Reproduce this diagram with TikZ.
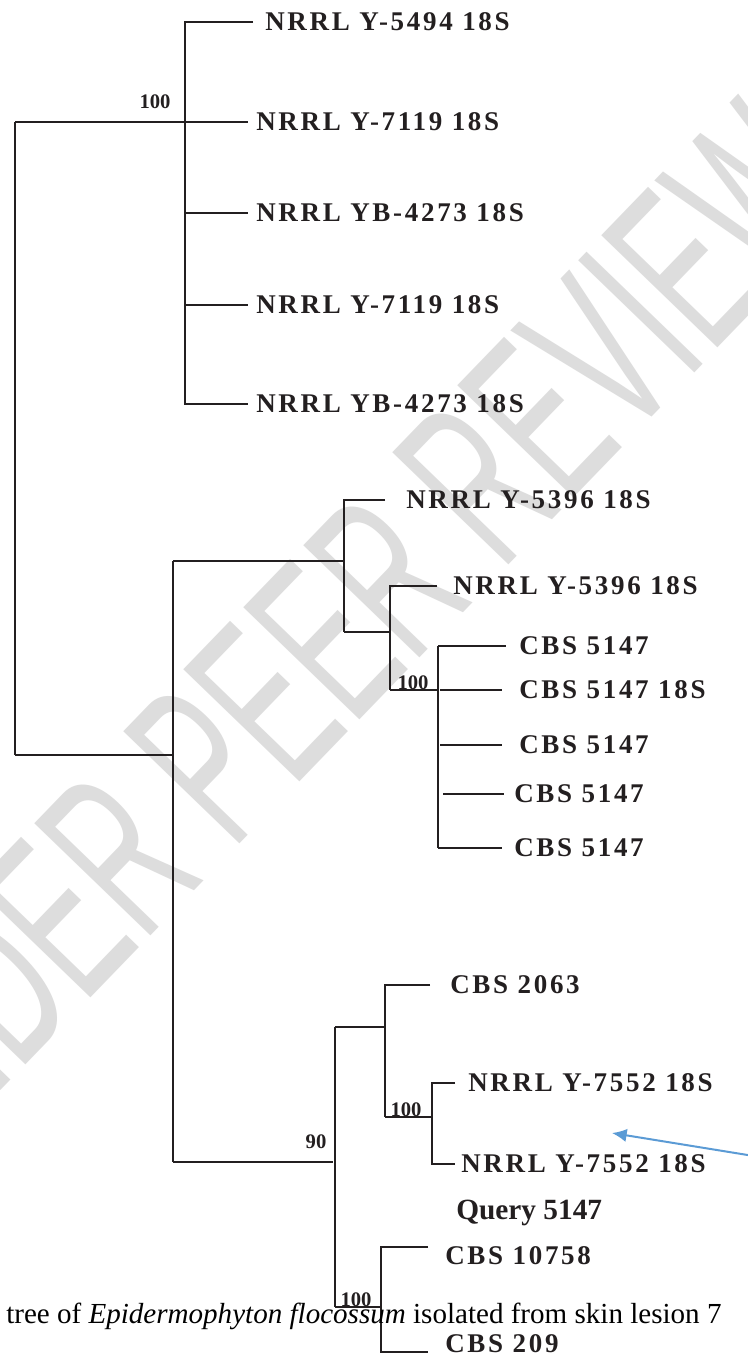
\documentclass[tikz,border=0pt]{standalone}
\usepackage{fontspec}
\setmainfont{Liberation Serif}
\newfontfamily\tipfamily[LetterSpace=10]{Liberation Serif}
\newfontfamily\wmfamily{Liberation Sans}
\usetikzlibrary{arrows.meta}
\definecolor{ink}{RGB}{35,31,32}
\definecolor{wmgray}{RGB}{221,221,221}
\definecolor{arrowblue}{RGB}{91,155,213}
\tikzstyle{jn}=[shape=coordinate]
\tikzstyle{lab}=[anchor=west, inner sep=0, text=ink, font=\tipfamily\bfseries\fontsize{20.25}{22}\selectfont]
\tikzstyle{bs}=[anchor=base, inner sep=0, text=ink, font=\bfseries\fontsize{15.5}{17}\selectfont]
\tikzstyle{br}=[draw=ink, line width=1.1pt]
\tikzstyle{wm}=[anchor=base west, inner sep=0, rotate=46, xscale=0.55, text=wmgray, font=\wmfamily\fontsize{176}{180}\selectfont]

\begin{document}
\begin{tikzpicture}[x=0.75pt, y=-0.75pt]
\path[use as bounding box, fill=white] (0,0) rectangle (747,1357);
% watermark
\node at (-111,1207)[wm](wmark){UNDER PEER REVIEW};

% root
\node at (15,122)[jn](r1){};
\node at (15,755)[jn](r2){};
\draw[br] (r1)--(r2);

% first clade
\node at (185,122)[jn](a){};
\node at (185,22)[jn](a1){};
\node at (185,213)[jn](a3){};
\node at (185,305)[jn](a4){};
\node at (185,404)[jn](a5){};
\node at (253,22)[jn](A1){};
\node at (248,122)[jn](A2){};
\node at (248,213)[jn](A3){};
\node at (248,305)[jn](A4){};
\node at (248,404)[jn](A5){};
\draw[br] (r1)--(a)--(A2);
\draw[br] (A1)--(a1)--(a5)--(A5);
\draw[br] (a3)--(A3);
\draw[br] (a4)--(A4);
\node at (155,102)[bs, anchor=center](s1){100};
\node at (265,22)[lab](n1){NRRL Y-5494 18S};
\node at (256,122)[lab](n2){NRRL Y-7119 18S};
\node at (256,213)[lab](n3){NRRL YB-4273 18S};
\node at (256,305)[lab](n4){NRRL Y-7119 18S};
\node at (256,404)[lab](n5){NRRL YB-4273 18S};

% second clade
\node at (173,755)[jn](b){};
\node at (173,561)[jn](b1){};
\node at (173,1162)[jn](b2){};
\draw[br] (r2)--(b);
\draw[br] (b1)--(b2);
\node at (344,561)[jn](c){};
\node at (344,500)[jn](c1){};
\node at (344,632)[jn](c2){};
\node at (385,500)[jn](C1){};
\draw[br] (b1)--(c);
\draw[br] (C1)--(c1)--(c2);
\node at (390,632)[jn](d){};
\node at (390,586)[jn](d1){};
\node at (390,690)[jn](d2){};
\node at (437,586)[jn](D1){};
\draw[br] (c2)--(d);
\draw[br] (D1)--(d1)--(d2);
\node at (438,690)[jn](e){};
\node at (438,646)[jn](e1){};
\node at (438,848)[jn](e5){};
\draw[br] (d2)--(e);
\draw[br] (e1)--(e5);
\node at (506,646)[jn](E1){};
\node at (502,848)[jn](E5){};
\draw[br] (e1)--(E1);
\draw[br] (e5)--(E5);
\foreach \y/\s/\t in {690/440/502, 745/440/502, 794/443/504}
  {\draw[br] (\s,\y)--(\t,\y);}
\node at (413,689)[bs](s2){100};
\node at (406,500)[lab](n6){NRRL Y-5396 18S};
\node at (453,586)[lab](n7){NRRL Y-5396 18S};
\node at (519,646)[lab](n8){CBS 5147};
\node at (519,690)[lab](n9){CBS 5147 18S};
\node at (519,745)[lab](n10){CBS 5147};
\node at (514,794)[lab](n11){CBS 5147};
\node at (514,848)[lab](n12){CBS 5147};

% third clade
\node at (333,1162)[jn](f){};
\node at (335,1027)[jn](f1){};
\node at (335,1307)[jn](f2){};
\draw[br] (b2)--(f);
\draw[br] (f1)--(f2);
\node at (316,1142)[bs, anchor=center](s3){90};
\node at (385,1027)[jn](g){};
\node at (385,985)[jn](g1){};
\node at (385,1117)[jn](g2){};
\node at (430,985)[jn](G1){};
\draw[br] (f1)--(g);
\draw[br] (G1)--(g1)--(g2);
\node at (432,1117)[jn](h){};
\node at (432,1083)[jn](h1){};
\node at (432,1164)[jn](h2){};
\node at (455,1083)[jn](H1){};
\node at (455,1164)[jn](H2){};
\draw[br] (g2)--(h);
\draw[br] (H1)--(h1)--(h2)--(H2);
\node at (406,1116)[bs](s4){100};
\node at (381,1307)[jn](k){};
\node at (381,1247)[jn](k1){};
\node at (381,1352)[jn](k2){};
\node at (428,1247)[jn](K1){};
\node at (428,1352)[jn](K2){};
\draw[br] (f2)--(k);
\draw[br] (K1)--(k1)--(k2)--(K2);
\node at (356,1306)[bs](s5){100};
\node at (450,985)[lab](n13){CBS 2063};
\node at (468,1083)[lab](n14){NRRL Y-7552 18S};
\node at (461,1164)[lab](n15){NRRL Y-7552 18S};
\node at (456,1213)[anchor=west, inner sep=0, text=ink, font=\bfseries\fontsize{22}{24}\selectfont](q){Query 5147};
\node at (445,1256)[lab](n16){CBS 10758};
\node at (445,1344)[lab](n17){CBS 209};

% caption and arrow
\node at (6,1323)[anchor=base west, inner sep=0, font=\fontsize{21.8}{24}\selectfont](cap){tree of \textit{Epidermophyton flocossum} isolated from skin lesion 7};
\coordinate (qtail) at (760,1157);
\coordinate (qtip) at (612,1133);
\draw[draw=arrowblue, line width=1.5pt, -{Latex[length=11pt,width=10pt]}] (qtail)--(qtip);
\end{tikzpicture}
\end{document}
